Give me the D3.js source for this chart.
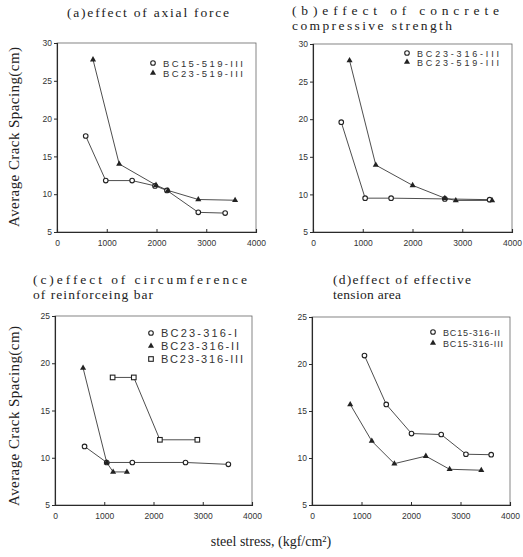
<!DOCTYPE html>
<html><head><meta charset="utf-8">
<script src="https://cdn.jsdelivr.net/npm/d3@7"></script>
<style>
body{margin:0;background:#fff;}
svg{display:block;}
.serif{font-family:"Liberation Serif","DejaVu Serif","Times New Roman",serif;}
.sans{font-family:"Liberation Sans","DejaVu Sans",Arial,sans-serif;}
</style></head>
<body>
<svg id="chart" width="523" height="557"></svg>
<script>
// ---------- data ----------
const xTicks = [0, 1000, 2000, 3000, 4000];
const yTicksTop = [5, 10, 15, 20, 25, 30];
const yTicksBottom = [5, 10, 15, 20, 25];

const titleA = ["(a)effect of axial force"];
const titleB = ["(b)effect of concrete", "compressive strength"];
const titleC = ["(c)effect of circumference", "of reinforceing bar"];
const titleD = ["(d)effect of effective", "tension area"];

const namesA = ["BC15-519-III", "BC23-519-III"];
const a1 = [[577,17.7],[980,11.8],[1510,11.8],[1970,11.1],[2210,10.5],[2840,7.6],[3380,7.5]];
const a2 = [[724,27.8],[1250,14.0],[1990,11.2],[2230,10.5],[2840,9.3],[3580,9.2]];

const namesB = ["BC23-316-III", "BC23-519-III"];
const b1 = [[568,19.6],[1048,9.5],[1570,9.5],[2650,9.4],[3550,9.3]];
const b2 = [[735,27.8],[1262,13.9],[2003,11.2],[2650,9.5],[2870,9.2],[3600,9.2]];

const namesC = ["BC23-316-I", "BC23-316-II", "BC23-316-III"];
const c1 = [[600,11.2],[1050,9.5],[1570,9.5],[2650,9.5],[3520,9.3]];
const c2 = [[570,19.5],[1050,9.5],[1180,8.5],[1460,8.5]];
const c3 = [[1170,18.5],[1600,18.5],[2130,11.9],[2890,11.9]];

const namesD = ["BC15-316-II", "BC15-316-III"];
const d1 = [[1060,20.9],[1500,15.7],[2010,12.6],[2610,12.5],[3110,10.4],[3620,10.35]];
const d2 = [[772,15.7],[1208,11.8],[1664,9.4],[2300,10.2],[2780,8.8],[3420,8.7]];

const yLabel = "Average Crack Spacing(cm)";
const xLabel = "steel stress, (kgf/cm²)";

// ---------- layout ----------
const svg = d3.select("#chart");
const ink = "#2a2a2a";

const panels = [
  {x0:57, x1:256, y0:43, y1:232, ymax:30, yticks:yTicksTop, series:[a1,a2], names:namesA, marks:["circle","triangle"],
   title:titleA, tx:67, ty:[17], tw:[162], legX:153, legY:[63,73], legFont:9.5, legW:[80,80]},
  {x0:313, x1:512, y0:44, y1:232, ymax:30, yticks:yTicksTop, series:[b1,b2], names:namesB, marks:["circle","triangle"],
   title:titleB, tx:292, ty:[14.5,29.5], tw:[207,160], legX:407, legY:[53,62], legFont:9, legW:[82,82]},
  {x0:55, x1:252, y0:316, y1:505, ymax:25, yticks:yTicksBottom, series:[c1,c2,c3], names:namesC, marks:["circle","triangle","square"],
   title:titleC, tx:33, ty:[284,299], tw:[214,120], legX:151, legY:[333,346,359], legFont:11, legW:[76,78,82]},
  {x0:312, x1:510, y0:317, y1:505, ymax:25, yticks:yTicksBottom, series:[d1,d2], names:namesD, marks:["circle","triangle"],
   title:titleD, tx:333, ty:[284,299], tw:[138,68], legX:433, legY:[332,343], legFont:9, legW:[57,60]}
];

const tri = d3.symbol().type(d3.symbolTriangle).size(16);

function drawMarks(g, pts, type) {
  pts.forEach(([px, py]) => {
    if (type === "circle") {
      g.append("circle").attr("cx", px).attr("cy", py).attr("r", 2.3)
        .attr("fill", "#fff").attr("stroke", "#222").attr("stroke-width", 1.1);
    } else if (type === "triangle") {
      g.append("path").attr("d", tri).attr("transform", `translate(${px},${py})`)
        .attr("fill", "#222");
    } else {
      g.append("rect").attr("x", px - 2.3).attr("y", py - 2.3).attr("width", 4.6).attr("height", 4.6)
        .attr("fill", "#fff").attr("stroke", "#222").attr("stroke-width", 1.1);
    }
  });
}

panels.forEach(p => {
  const x = d3.scaleLinear().domain([0, 4000]).range([p.x0, p.x1]);
  const y = d3.scaleLinear().domain([5, p.ymax]).range([p.y1, p.y0]);
  const g = svg.append("g");

  // frame
  g.append("rect").attr("x", p.x0).attr("y", p.y0)
    .attr("width", p.x1 - p.x0).attr("height", p.y1 - p.y0)
    .attr("fill", "none").attr("stroke", "#666").attr("stroke-width", 0.8);

  // axes
  const xa = g.append("g").attr("transform", `translate(0,${p.y1})`)
    .call(d3.axisBottom(x).tickValues(xTicks).tickSize(-3).tickPadding(6).tickFormat(d3.format("d")));
  const ya = g.append("g").attr("transform", `translate(${p.x0},0)`)
    .call(d3.axisLeft(y).tickValues(p.yticks).tickSize(3).tickPadding(2).tickFormat(d3.format("d")));
  [xa, ya].forEach(a => {
    a.attr("font-family", null).attr("font-size", null);
    a.select(".domain").attr("stroke", ink).attr("stroke-width", 1.1);
    a.selectAll(".tick line").attr("stroke", ink);
    a.selectAll(".tick text").attr("class", "sans").attr("fill", "#333").style("font-size", "8.5px");
  });
  xa.selectAll(".tick text").attr("dy", "0.9em");

  // lines
  const line = d3.line().x(d => x(d[0])).y(d => y(d[1]));
  p.series.forEach(s => {
    g.append("path").datum(s).attr("d", line)
      .attr("fill", "none").attr("stroke", "#3a3a3a").attr("stroke-width", 0.9);
  });
  // markers
  p.series.forEach((s, i) => {
    drawMarks(g, s.map(d => [x(d[0]), y(d[1])]), p.marks[i]);
  });

  // legend
  p.names.forEach((n, i) => {
    drawMarks(g, [[p.legX, p.legY[i]]], p.marks[i]);
    g.append("text").attr("class", "sans").attr("x", p.legX + 10).attr("y", p.legY[i] + 3.5)
      .style("font-size", p.legFont + "px").attr("fill", "#333")
      .attr("textLength", p.legW[i]).attr("lengthAdjust", "spacing")
      .text(n);
  });

  // title
  p.title.forEach((t, i) => {
    g.append("text").attr("class", "serif").attr("x", p.tx).attr("y", p.ty[i])
      .style("font-size", "13.5px").attr("fill", "#222")
      .attr("textLength", p.tw[i]).attr("lengthAdjust", "spacing")
      .text(t);
  });
});

// y axis labels
[[19, 137], [19, 416]].forEach(([cx, cy]) => {
  svg.append("text").attr("class", "serif").attr("transform", `translate(${cx},${cy}) rotate(-90)`)
    .attr("text-anchor", "middle").style("font-size", "15px")
    .attr("fill", "#222").attr("textLength", 180).attr("lengthAdjust", "spacing")
    .text(yLabel);
});

// x axis label
svg.append("text").attr("class", "serif").attr("x", 271).attr("y", 546).attr("text-anchor", "middle")
  .style("font-size", "14px").attr("fill", "#222")
  .text(xLabel);
</script>
</body></html>
